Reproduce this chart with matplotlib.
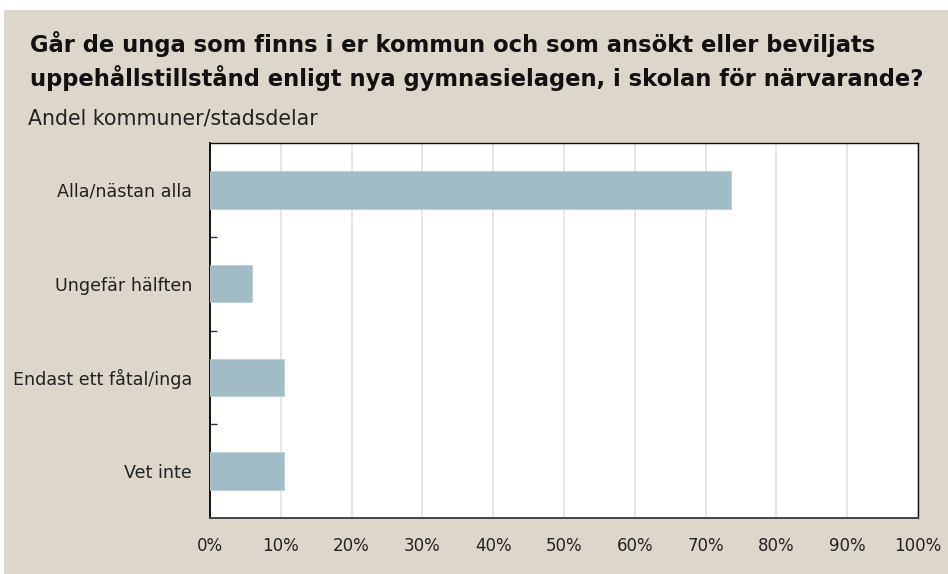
import matplotlib
matplotlib.use("Agg")
import matplotlib.pyplot as plt
from matplotlib.patches import Rectangle
from matplotlib.ticker import MultipleLocator, FixedLocator, PercentFormatter

categories = ["Alla/nästan alla", "Ungefär hälften", "Endast ett fåtal/inga", "Vet inte"]
values = [73.6, 5.9, 10.4, 10.4]
title = "Går de unga som finns i er kommun och som ansökt eller beviljats\nuppehållstillstånd enligt nya gymnasielagen, i skolan för närvarande?"
subtitle = "Andel kommuner/stadsdelar"

W, H = 948, 574
bg = "#ddd6cb"
bar_color = "#a0bbc6"
grid_color = "#e8e3dc"

fig = plt.figure(figsize=(W / 100, H / 100), dpi=100, facecolor="white")
fig.patches.append(Rectangle((4 / W, 0), 1 - 4 / W, (H - 10) / H, transform=fig.transFigure,
                             facecolor=bg, edgecolor="none", zorder=-10))

font = ["DejaVu Sans"]
ax = fig.add_axes([210 / W, 1 - 518 / H, (918 - 210) / W, (518 - 143) / H])
ax.set_facecolor("white")
y = list(range(len(categories)))
ax.barh(y, values, height=0.4, color=bar_color, edgecolor="#bccfd7", linewidth=0.6, zorder=3)
ax.set_xlim(0, 100)
ax.set_ylim(len(categories) - 0.5, -0.5)
ax.xaxis.set_major_locator(MultipleLocator(10))
ax.xaxis.set_major_formatter(PercentFormatter(decimals=0))
ax.grid(axis="x", color=grid_color, linewidth=1.3, zorder=0)
ax.set_yticks(y)
ax.set_yticklabels(categories, fontsize=12.6, family=font, color="#222222")
ax.yaxis.set_minor_locator(FixedLocator([0.5, 1.5, 2.5]))
ax.tick_params(axis="y", which="major", length=0, pad=13)
ax.tick_params(axis="y", which="minor", length=5, direction="in", color="#333333", width=1)
ax.tick_params(axis="x", length=0, pad=14, labelsize=12, labelcolor="#222222")
for lab in ax.get_xticklabels():
    lab.set_family(font)
for s in ax.spines.values():
    s.set_color("#111111")
    s.set_linewidth(1.0)
ax.spines["left"].set_linewidth(1.4)
ax.spines["bottom"].set_linewidth(1.4)
ax.spines["bottom"].set_color("#444444")

fig.text(30 / W, 1 - 31 / H, title, ha="left", va="top", fontsize=16.3, fontweight="bold",
         family=font, color="#111111", linespacing=1.4)
fig.text(28 / W, 1 - 118 / H, subtitle, ha="left", va="center", fontsize=14.8,
         family=font, color="#222222")

fig.savefig("out.png", dpi=100, facecolor=fig.get_facecolor())
